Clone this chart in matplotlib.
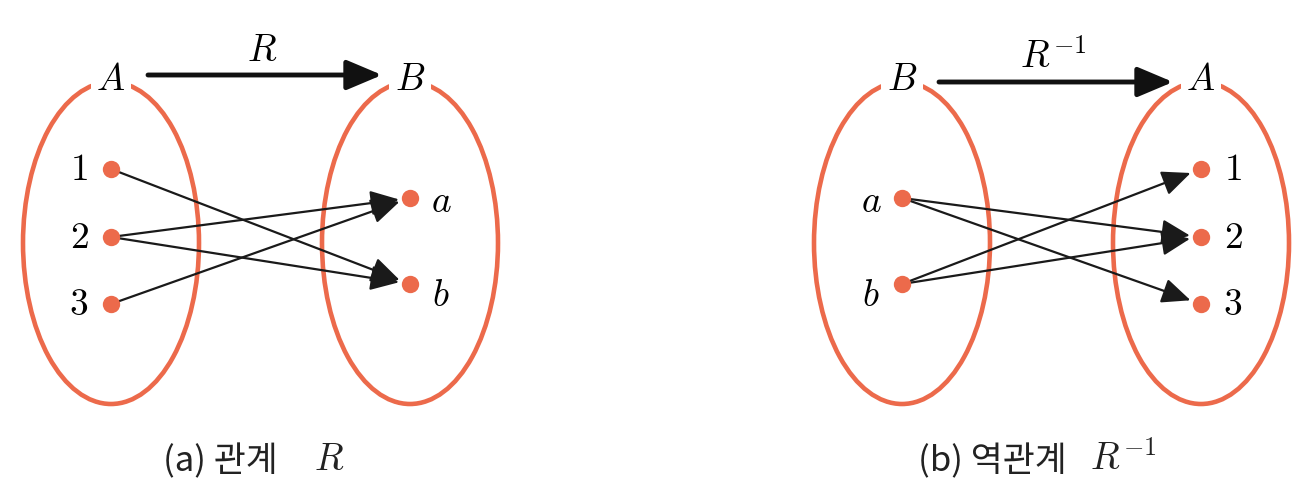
import matplotlib
matplotlib.use("Agg")
import matplotlib.pyplot as plt
from matplotlib.patches import Ellipse, FancyArrowPatch

plt.rcParams['mathtext.fontset'] = 'cm'

# Data: the sets and the relation R between them
set_A = ['1', '2', '3']
set_B = ['a', 'b']
relation_R = [('1', 'b'), ('2', 'a'), ('2', 'b'), ('3', 'a')]
relation_R_inv = [(y, x) for (x, y) in relation_R]

captions_kr = ['(a) 관계', '(b) 역관계']
captions_math = [r'$R$', r'$R^{-1}$']
arrow_labels = [r'$R$', r'$R^{-1}$']

orange = '#EC6A4B'
W, H = 1316, 496

fig = plt.figure(figsize=(W / 100, H / 100), dpi=100)
ax = fig.add_axes([0, 0, 1, 1])
ax.set_xlim(0, W)
ax.set_ylim(H, 0)
ax.axis('off')

# y positions for 3-member and 2-member sets
ypos = {3: [169, 237, 304], 2: [198, 284]}


def draw_set(cx, name, members, label_side):
    ax.add_patch(Ellipse((cx, 243), 176, 322, fill=False, ec=orange, lw=3.3, zorder=1))
    ax.text(cx, 80, '$' + name + '$', fontsize=27, ha='center', va='center', zorder=3,
            bbox=dict(boxstyle='square,pad=0.15', fc='white', ec='none'))
    pos = {}
    for m, y in zip(members, ypos[len(members)]):
        ax.plot(cx, y, 'o', ms=12.5, color=orange, mec='none', zorder=4)
        if m.isdigit():
            ax.text(cx + label_side * 32, y + 1, '$' + m + '$', fontsize=27,
                    ha='center', va='center')
        else:
            off = 4 if m == 'a' else 12
            ax.text(cx + label_side * 31, y + off, '$' + m + '$', fontsize=27,
                    ha='center', va='center')
        pos[m] = (cx, y)
    return pos


def draw_panel(x_left, x_right, dom_name, dom, cod_name, cod, rel, lab, arrow_y):
    p1 = draw_set(x_left, dom_name, dom, -1)
    p2 = draw_set(x_right, cod_name, cod, 1)
    for s, t in rel:
        ax.add_patch(FancyArrowPatch(p1[s], p2[t], arrowstyle='-|>,head_length=0.8,head_width=0.35',
                                     mutation_scale=22, lw=1.6, color='#1a1a1a',
                                     shrinkA=0, shrinkB=8, zorder=2))
    ax.add_patch(FancyArrowPatch((x_left + 37, arrow_y), (x_right - 28, arrow_y),
                                 arrowstyle='-|>,head_length=0.9,head_width=0.38',
                                 mutation_scale=24, lw=3.5, color='#111111',
                                 shrinkA=0, shrinkB=0, zorder=2))
    ax.text((x_left + x_right) / 2 + 2, arrow_y - 24, lab, fontsize=27, ha='center', va='center')


draw_panel(111, 410, 'A', set_A, 'B', set_B, relation_R, arrow_labels[0], 75)
draw_panel(902, 1201, 'B', set_B, 'A', set_A, relation_R_inv, arrow_labels[1], 82)

# captions
cap_pos = [(163, 314), (918, 1090)]
for (xk, xm), kr, m in zip(cap_pos, captions_kr, captions_math):
    ax.text(xk, 462, kr, fontsize=25, family=['Noto Sans CJK KR', 'DejaVu Sans'],
            ha='left', va='center', color='#222222')
    ax.text(xm, 460, m, fontsize=27, ha='left', va='center', color='#222222')

fig.savefig('out.png', dpi=100)
